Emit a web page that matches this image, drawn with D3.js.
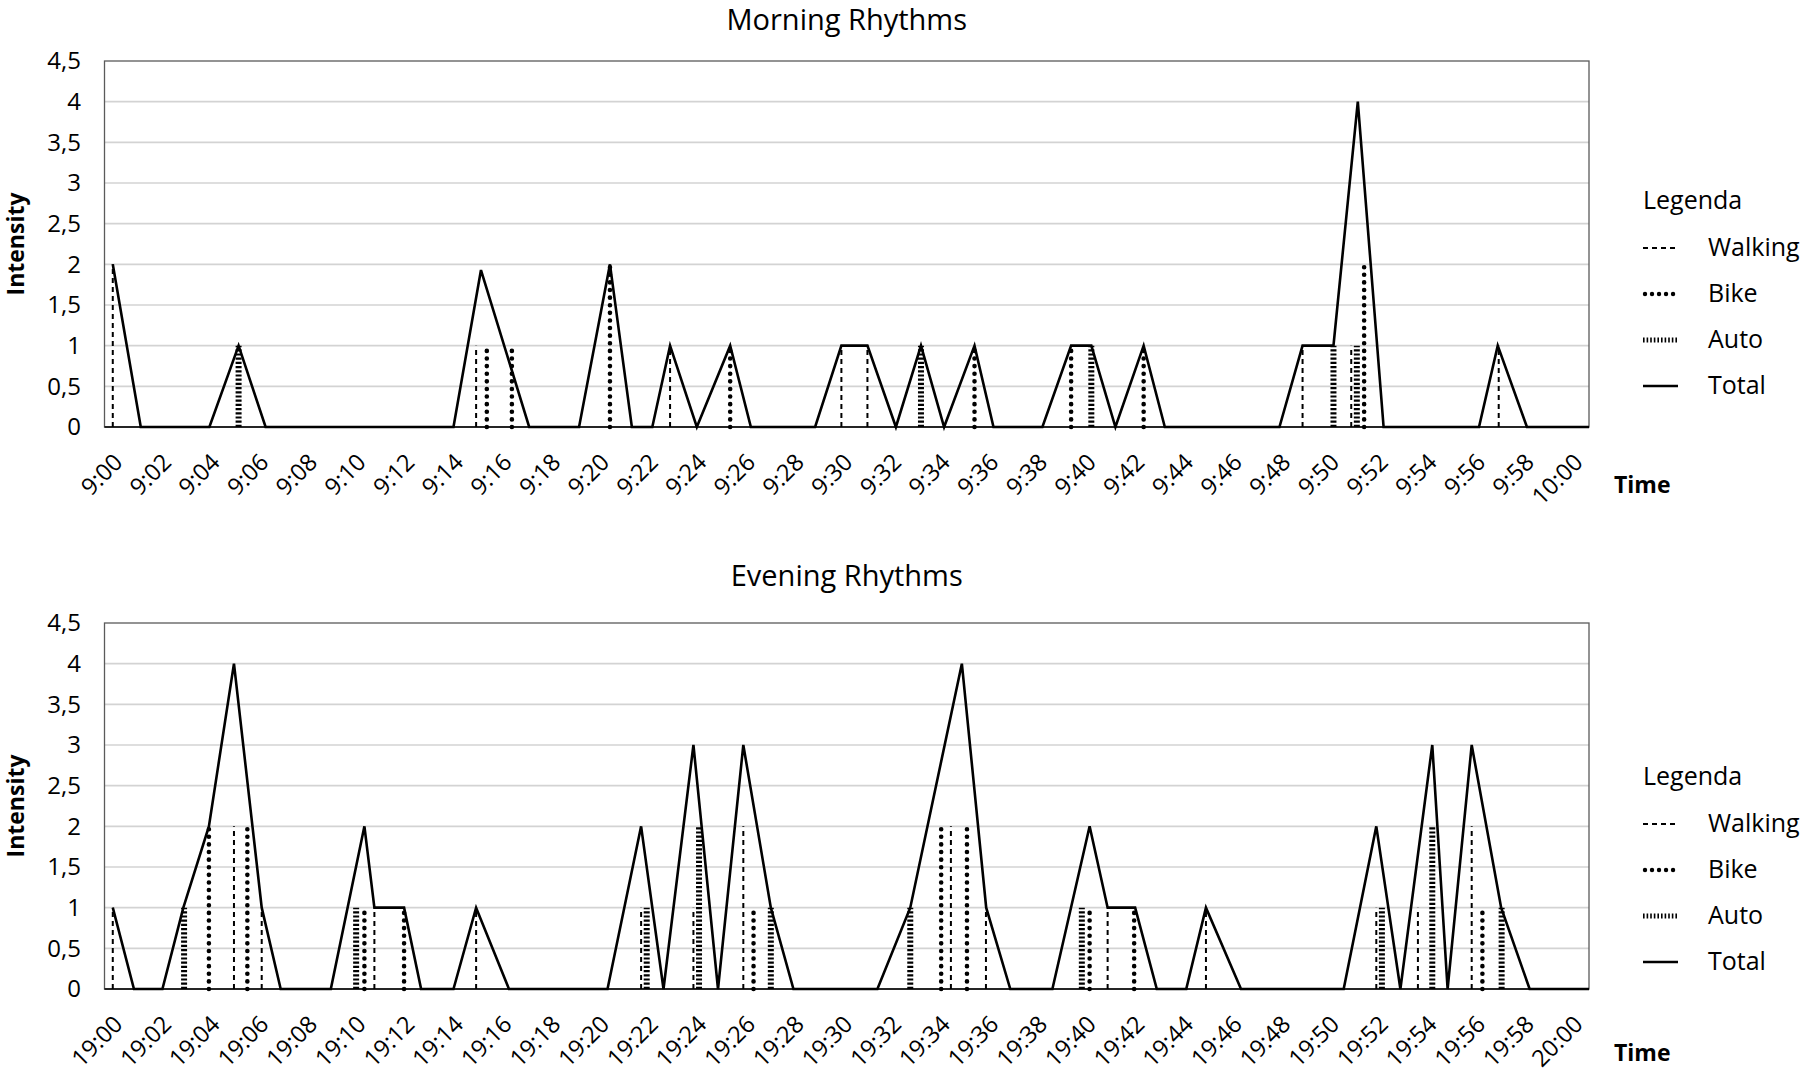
<!DOCTYPE html>
<html>
<head>
<meta charset="utf-8">
<script src="https://cdn.jsdelivr.net/npm/d3@7"></script>
<style>
  body { margin: 0; background: #fff; }
  svg { display: block; font-family: "Open Sans", "Noto Sans", sans-serif; }
</style>
</head>
<body>
<svg id="chart" width="1800" height="1074"></svg>
<script>
'use strict';

// minutes after the full hour, value
const morningTotal = [[-0.16, 2], [0.99, 0], [3.81, 0], [5.01, 1], [6.12, 0], [13.84, 0], [14.97, 1.93], [16.95, 0],
    [19.0, 0], [20.27, 2], [21.17, 0], [22.01, 0], [22.74, 1], [23.84, 0], [25.21, 1], [26.06, 0], [28.7, 0],
    [29.78, 1], [30.85, 1], [32.02, 0], [33.05, 1], [34.0, 0], [35.25, 1], [36.03, 0], [38.04, 0], [39.22, 1],
    [40.05, 1], [41.04, 0], [42.2, 1], [43.07, 0], [47.78, 0], [48.73, 1], [50.0, 1], [51.0, 4], [52.06, 0],
    [55.98, 0], [56.75, 1], [57.95, 0], [60.5, 0]];
const morningWalking = [[-0.16, 2], [14.77, 1], [22.74, 1], [29.78, 1], [30.85, 1], [48.73, 1], [50.73, 1], [56.79, 1]];
const morningBike = [[15.21, 1], [16.24, 1], [20.27, 2], [25.21, 1], [35.25, 1], [39.22, 1], [42.2, 1], [51.26, 2]];
const morningAuto = [[5.01, 1], [33.05, 1], [40.05, 1], [50.0, 1], [50.96, 1]];

const eveningTotal = [[-0.16, 1], [0.71, 0], [1.88, 0], [2.74, 1], [3.79, 2], [4.82, 4], [5.96, 1], [6.74, 0],
    [8.8, 0], [10.18, 2], [10.59, 1], [11.81, 1], [12.51, 0], [13.84, 0], [14.77, 1], [16.12, 0], [20.17, 0],
    [21.55, 2], [22.47, 0], [23.7, 3], [24.71, 0], [25.75, 3], [26.88, 1], [27.81, 0], [31.26, 0], [32.61, 1],
    [34.73, 4], [35.73, 1], [36.72, 0], [38.45, 0], [39.98, 2], [40.72, 1], [41.85, 1], [42.74, 0], [43.95, 0],
    [44.76, 1], [46.2, 0], [50.42, 0], [51.76, 2], [52.75, 0], [54.06, 3], [54.69, 0], [55.68, 3], [56.89, 1],
    [58.06, 0], [60.5, 0]];
const eveningWalking = [[-0.16, 1], [4.82, 2], [5.96, 1], [10.59, 1], [14.77, 1], [21.55, 1], [23.7, 1], [25.75, 2],
    [34.28, 2], [35.72, 1], [40.72, 1], [44.76, 1], [51.76, 1], [53.47, 1], [55.68, 2]];
const eveningBike = [[3.79, 2], [5.37, 2], [10.18, 1], [11.81, 1], [26.17, 1], [33.88, 2], [34.94, 2], [39.98, 1],
    [41.81, 1], [56.12, 1]];
const eveningAuto = [[2.77, 1], [9.84, 1], [21.78, 1], [23.93, 2], [26.88, 1], [32.61, 1], [39.66, 1], [51.99, 1],
    [54.06, 2], [56.91, 1]];

const yTicks = [0, 0.5, 1, 1.5, 2, 2.5, 3, 3.5, 4, 4.5];
const xTickMinutes = [0, 2, 4, 6, 8, 10, 12, 14, 16, 18, 20, 22, 24, 26, 28, 30, 32, 34, 36, 38, 40, 42, 44, 46,
    48, 50, 52, 54, 56, 58, 60];
const morningLabels = ["9:00", "9:02", "9:04", "9:06", "9:08", "9:10", "9:12", "9:14", "9:16", "9:18", "9:20",
    "9:22", "9:24", "9:26", "9:28", "9:30", "9:32", "9:34", "9:36", "9:38", "9:40", "9:42", "9:44", "9:46",
    "9:48", "9:50", "9:52", "9:54", "9:56", "9:58", "10:00"];
const eveningLabels = ["19:00", "19:02", "19:04", "19:06", "19:08", "19:10", "19:12", "19:14", "19:16", "19:18",
    "19:20", "19:22", "19:24", "19:26", "19:28", "19:30", "19:32", "19:34", "19:36", "19:38", "19:40", "19:42",
    "19:44", "19:46", "19:48", "19:50", "19:52", "19:54", "19:56", "19:58", "20:00"];
const legendNames = ["Walking", "Bike", "Auto", "Total"];

const LEFT = 104.5;
const RIGHT = 1589;

const STYLES = {
    Walking: { width: 2, dash: "5,4", cap: "butt" },
    Bike: { width: 4.6, dash: "0.01,7.6", cap: "round" },
    Auto: { width: 6, dash: "2.2,2", cap: "butt" },
    Total: { width: 2.6, dash: null, cap: "butt" }
};

const svg = d3.select("#chart");

const x = d3.scaleLinear().domain([-0.5, 60.5]).range([LEFT, RIGHT]);

/**
 * Draws one panel (title, grid, mode lines, total line, axes, legend)
 */
function drawPanel(p) {
    const y = d3.scaleLinear().domain([0, 4.5]).range([p.zero, p.top]);
    const g = svg.append("g");

    g.append("text")
        .attr("x", (LEFT + RIGHT) / 2).attr("y", p.titleY)
        .attr("text-anchor", "middle")
        .style("font-size", "29px")
        .text(p.title);

    // grid
    g.append("g").selectAll("line")
        .data(yTicks.filter(d => d > 0 && d < 4.5))
        .enter().append("line")
        .attr("x1", LEFT).attr("x2", RIGHT)
        .attr("y1", d => y(d)).attr("y2", d => y(d))
        .attr("stroke", "#d3d3d3").attr("stroke-width", 1.6);

    // frame
    g.append("rect")
        .attr("x", LEFT).attr("y", p.top)
        .attr("width", RIGHT - LEFT).attr("height", p.zero - p.top)
        .attr("fill", "none").attr("stroke", "#5a5a5a").attr("stroke-width", 1.3);

    // y axis
    const yAxis = d3.axisLeft(y).tickValues(yTicks).tickSize(0).tickPadding(0)
        .tickFormat(d => String(d).replace(".", ","));
    const ya = g.append("g").attr("transform", "translate(" + 81 + ",0)").call(yAxis);
    ya.select(".domain").remove();
    ya.selectAll("text").style("font-size", "24px").attr("fill", "#000")
        .style("font-family", "'Open Sans', sans-serif");

    g.append("text")
        .attr("transform", "translate(24," + ((p.top + p.zero) / 2) + ") rotate(-90)")
        .attr("text-anchor", "middle")
        .style("font-size", "23px").style("font-weight", "bold")
        .text("Intensity");

    // x axis
    const xAxis = d3.axisBottom(x).tickValues(xTickMinutes).tickSize(0)
        .tickFormat((d, i) => p.labels[i]);
    const xa = g.append("g").attr("transform", "translate(0," + p.zero + ")").call(xAxis);
    xa.select(".domain").remove();
    xa.selectAll("text")
        .style("font-size", "23.5px").attr("fill", "#000")
        .style("font-family", "'Open Sans', sans-serif")
        .attr("text-anchor", "end")
        .attr("y", 0).attr("dy", "0.35em")
        .attr("transform", "translate(1,31) rotate(-45)");

    g.append("text")
        .attr("x", 1614).attr("y", p.timeY)
        .style("font-size", "23px").style("font-weight", "bold")
        .text("Time");

    // mode drop lines
    [["Walking", p.walking], ["Bike", p.bike], ["Auto", p.auto]].forEach(function (m) {
        const st = STYLES[m[0]];
        g.append("g").selectAll("line")
            .data(m[1])
            .enter().append("line")
            .attr("x1", d => x(d[0])).attr("x2", d => x(d[0]))
            .attr("y1", y(0)).attr("y2", d => y(d[1]))
            .attr("stroke", "#000")
            .attr("stroke-width", st.width)
            .attr("stroke-dasharray", st.dash)
            .attr("stroke-linecap", st.cap);
    });

    // bottom axis line
    g.append("line")
        .attr("x1", LEFT).attr("x2", RIGHT)
        .attr("y1", y(0)).attr("y2", y(0))
        .attr("stroke", "#000").attr("stroke-width", 1.5);

    const line = d3.line().x(d => x(d[0])).y(d => y(d[1]));
    g.append("path")
        .datum(p.total)
        .attr("d", line)
        .attr("fill", "none")
        .attr("stroke", "#000")
        .attr("stroke-width", STYLES.Total.width)
        .attr("stroke-linejoin", "miter");

    // legend
    const lg = g.append("g");
    lg.append("text")
        .attr("x", 1643).attr("y", p.legendY)
        .style("font-size", "25px")
        .text("Legenda");
    const items = lg.selectAll("g.item")
        .data(legendNames)
        .enter().append("g")
        .attr("class", "item")
        .attr("transform", (d, i) => "translate(0," + (p.legendY + 39 + i * 46) + ")");
    items.append("line")
        .attr("x1", d => d === "Bike" ? 1645 : 1643)
        .attr("x2", d => d === "Walking" || d === "Bike" ? 1675 : 1678)
        .attr("y1", 0).attr("y2", 0)
        .attr("stroke", "#000")
        .attr("stroke-width", d => d === "Auto" ? 5 : (d === "Bike" ? 4.4 : STYLES[d].width))
        .attr("stroke-dasharray", d => d === "Bike" ? "0.01,7" : (d === "Auto" ? "1.6,2" : STYLES[d].dash))
        .attr("stroke-linecap", d => STYLES[d].cap);
    items.append("text")
        .attr("x", 1708).attr("y", 8)
        .style("font-size", "25px")
        .text(d => d);
}

drawPanel({
    title: "Morning Rhythms", titleY: 30, top: 61, zero: 427,
    total: morningTotal, walking: morningWalking, bike: morningBike, auto: morningAuto,
    labels: morningLabels, legendY: 209, timeY: 493
});
drawPanel({
    title: "Evening Rhythms", titleY: 586, top: 623, zero: 989,
    total: eveningTotal, walking: eveningWalking, bike: eveningBike, auto: eveningAuto,
    labels: eveningLabels, legendY: 785, timeY: 1061
});
</script>
</body>
</html>
